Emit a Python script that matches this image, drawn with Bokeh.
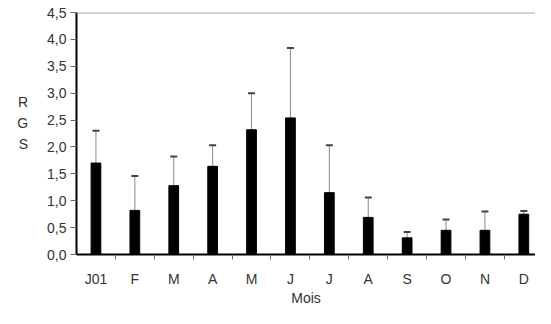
from bokeh.plotting import figure
from bokeh.models import Range1d, FixedTicker, Whisker, TeeHead, ColumnDataSource, Span
from bokeh.embed import file_html
from bokeh.resources import INLINE

months = ["J01", "F", "M", "A", "M", "J", "J", "A", "S", "O", "N", "D"]
rgs_mean = [1.70, 0.82, 1.28, 1.64, 2.32, 2.54, 1.15, 0.69, 0.31, 0.45, 0.45, 0.75]
rgs_sd = [0.60, 0.64, 0.54, 0.39, 0.68, 1.30, 0.88, 0.37, 0.11, 0.20, 0.35, 0.06]
y_ticks = [0.0, 0.5, 1.0, 1.5, 2.0, 2.5, 3.0, 3.5, 4.0, 4.5]
y_tick_labels = ["0,0", "0,5", "1,0", "1,5", "2,0", "2,5", "3,0", "3,5", "4,0", "4,5"]

xs = list(range(len(months)))
src = ColumnDataSource(dict(
    x=xs,
    mean=rgs_mean,
    upper=[m + s for m, s in zip(rgs_mean, rgs_sd)],
))

FONT = "Liberation Sans"
TXT = "#333333"
FS = "14px"

p = figure(width=535, height=308, output_backend="svg", toolbar_location=None,
           x_range=Range1d(-0.5, 11.3), y_range=Range1d(0, 4.5),
           min_border_left=76, min_border_right=0, min_border_top=12, min_border_bottom=52)
p.outline_line_color = None
p.xgrid.visible = False
p.ygrid.visible = False
p.background_fill_color = "white"

p.vbar(x="x", top="mean", width=0.25, bottom=0, color="black", source=src)
w = Whisker(base="x", lower="mean", upper="upper", source=src,
            line_color="#8a8a8a", line_width=1,
            upper_head=TeeHead(size=7, line_color="#444444", line_width=2),
            lower_head=None)
p.add_layout(w)

p.add_layout(Span(location=4.5, dimension="width", line_color="#aaaaaa", line_width=2))

# y axis
p.yaxis.ticker = FixedTicker(ticks=y_ticks, minor_ticks=[])
p.yaxis.major_label_overrides = {t: l for t, l in zip(y_ticks, y_tick_labels)}
p.yaxis.axis_line_color = "black"
p.yaxis.axis_line_width = 2
p.yaxis.major_tick_out = 6
p.yaxis.major_tick_in = 0
p.yaxis.major_tick_line_color = "#666666"
p.yaxis.major_label_standoff = 4
p.yaxis.major_label_text_font = FONT
p.yaxis.major_label_text_font_size = FS
p.yaxis.major_label_text_color = TXT
p.yaxis.axis_label = "R\nG\nS\n "
p.yaxis.axis_label_orientation = "horizontal"
p.yaxis.axis_label_standoff = 16
p.yaxis.axis_label_text_font = FONT
p.yaxis.axis_label_text_font_size = FS
p.yaxis.axis_label_text_font_style = "normal"
p.yaxis.axis_label_text_color = TXT
p.yaxis.axis_label_text_line_height = 1.3

# x axis
p.xaxis.ticker = FixedTicker(ticks=xs, minor_ticks=[i + 0.5 for i in xs])
p.xaxis.major_label_overrides = {i: m for i, m in zip(xs, months)}
p.xaxis.axis_line_color = "black"
p.xaxis.axis_line_width = 2
p.xaxis.major_tick_out = 0
p.xaxis.major_tick_in = 0
p.xaxis.minor_tick_out = 5
p.xaxis.minor_tick_in = 0
p.xaxis.minor_tick_line_color = "#666666"
p.xaxis.major_label_standoff = 11
p.xaxis.major_label_text_font = FONT
p.xaxis.major_label_text_font_size = FS
p.xaxis.major_label_text_color = TXT
p.xaxis.axis_label = "Mois"
p.xaxis.axis_label_standoff = 0
p.xaxis.axis_label_text_font = FONT
p.xaxis.axis_label_text_font_size = FS
p.xaxis.axis_label_text_font_style = "normal"
p.xaxis.axis_label_text_color = TXT

open("out.html", "w").write(file_html(p, INLINE))
